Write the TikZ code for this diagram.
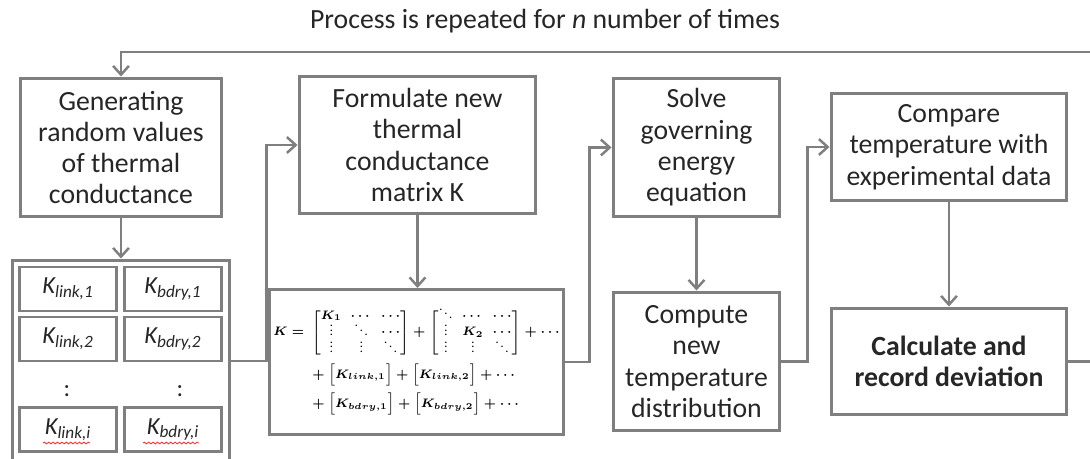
\documentclass[tikz,border=0pt]{standalone}
\usepackage{amsmath, amssymb}
\usepackage{fontspec}
\setmainfont{Carlito}
\usetikzlibrary{arrows.meta, positioning, decorations.pathmorphing}
\definecolor{linegray}{HTML}{7F7F7F}
\definecolor{textdark}{HTML}{262626}
\newsavebox{\kmatbox}
\newcommand{\kvdots}{\mathord{\vbox{\baselineskip2.6pt\lineskiplimit0pt\kern1pt\hbox{.}\hbox{.}\hbox{.}}}}
\newcommand{\kddots}{\mathinner{\mkern1mu\raise5pt\hbox{.}\mkern2mu\raise2.6pt\hbox{.}\mkern2mu\raise0.2pt\hbox{.}\mkern1mu}}
\tikzset{
  stepbox/.style={draw=linegray, line width=1.7pt, align=center, text=textdark, inner sep=2pt, font=\fontsize{15.8}{17.8}\selectfont},
  kbox/.style={draw=linegray, line width=1.7pt, minimum width=1.96cm, minimum height=0.88cm, inner sep=0pt, text=textdark, font=\fontsize{14}{16}\selectfont\itshape},
  flow/.style={draw=linegray, line width=1.4pt, -{Straight Barb[length=5pt,width=9pt]}},
  squiggle/.style={draw=red!80, line width=0.5pt, decorate, decoration={snake, amplitude=0.5pt, segment length=2.5pt}}
}

\begin{document}
\sbox{\kmatbox}{\scriptsize\boldmath\setlength{\arraycolsep}{2.5pt}\setlength{\jot}{3pt}\renewcommand{\arraystretch}{1.05}$\begin{aligned}
    K ={}& \begin{bmatrix} K_1 & \cdots & \cdots\\ \kvdots & \kddots & \cdots\\ \kvdots & \kvdots & \kddots \end{bmatrix}
    + \begin{bmatrix} \kddots & \cdots & \cdots\\ \kvdots & K_2 & \cdots\\ \kvdots & \kvdots & \kddots \end{bmatrix} + \cdots\\
    &+\Bigl[K_{link,1}\Bigr] + \Bigl[K_{link,2}\Bigr] + \cdots\\
    &+\Bigl[K_{bdry,1}\Bigr] + \Bigl[K_{bdry,2}\Bigr] + \cdots
  \end{aligned}$}
\begin{tikzpicture}[x=0.02cm, y=-0.02cm]
                \useasboundingbox (0,0) rectangle (1090,459);
                \node[text=textdark, font=\fontsize{15.8}{17.8}\selectfont] (title) at (545,21) {Process is repeated for \textit{n} number of times};

                % upper row
                \node[stepbox, minimum width=4.04cm, minimum height=2.78cm] (gen) at (121,147.5) {Generating\\ random values\\ of thermal\\ conductance};
                \node[stepbox, minimum width=4.74cm, minimum height=2.76cm] (form) at (417.5,145) {Formulate new\\ thermal\\ conductance\\ matrix K};
                \node[stepbox, minimum width=3.34cm, minimum height=2.78cm] (solve) at (696.5,147.5) {Solve\\ governing\\ energy\\ equation};
                \node[stepbox, minimum width=4.72cm, minimum height=2.16cm] (cmp) at (949,147) {Compare\\ temperature with\\ experimental data};

                % lower row
                \node[draw=linegray, line width=1.7pt, minimum width=4.36cm, minimum height=4.04cm] (klist) at (121,361) {};
                \node[kbox] (l1) at (68,289) {K\textsubscript{link,1}};
                \node[kbox] (b1) at (173,289) {K\textsubscript{bdry,1}};
                \node[kbox] (l2) at (68,339) {K\textsubscript{link,2}};
                \node[kbox] (b2) at (173,339) {K\textsubscript{bdry,2}};
                \node[text=textdark, font=\fontsize{14}{16}\selectfont] (ldots) at (67,391) {:};
                \node[text=textdark, font=\fontsize{14}{16}\selectfont] (bdots) at (180,391) {:};
                \node[kbox] (li) at (68,429.5) {K\textsubscript{link,i}};
                \node[kbox] (bi) at (173,429.5) {K\textsubscript{bdry,i}};
                \draw[squiggle] (43,443) -- (90,443);
                \draw[squiggle] (143,443) -- (199,443);

                \node[stepbox, minimum width=5.86cm, minimum height=2.9cm] (kmat) at (416.5,362) {\usebox{\kmatbox}};
                \node[stepbox, minimum width=3.34cm, minimum height=2.78cm] (comp) at (696.5,361.5) {Compute\\ new\\ temperature\\ distribution};
                \node[stepbox, minimum width=4.72cm, minimum height=2.14cm, font=\fontsize{15.8}{17.8}\selectfont\bfseries] (calc) at (949,361.5) {Calculate and\\ record deviation};

                % connectors
                \coordinate (loop) at (1100,52);
                \draw[flow] (gen) -- (klist);
                \draw[flow] (klist.east) -- ++(35,0) |- (form.west);
                \draw[flow] (form.south) -- (form.south |- kmat.north);
                \draw[flow] (kmat.east) -- ++(25,0) |- (solve.west);
                \draw[flow] (solve) -- (comp);
                \draw[flow] (comp.east) -- ++(26,0) |- (cmp.west);
                \draw[flow] (cmp) -- (calc);
                \draw[flow] (calc.east) -| (loop) -| (gen.north);
            \end{tikzpicture}
\end{document}
